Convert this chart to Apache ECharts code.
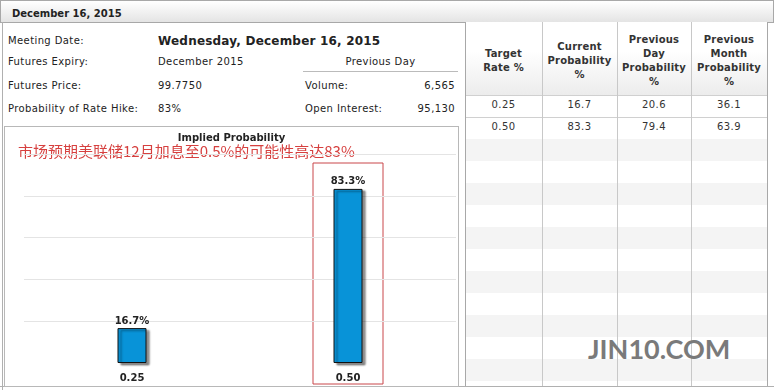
<!DOCTYPE html>
<html><head><meta charset="utf-8">
<script src="https://cdn.jsdelivr.net/npm/echarts@6/dist/echarts.min.js"></script>
<style>
body{margin:0;width:774px;height:390px;overflow:hidden;background:#fff;font-family:"DejaVu Sans",Verdana,sans-serif;color:#222;position:relative}
.a{position:absolute;white-space:nowrap}
.l{font-size:10px;line-height:14px;letter-spacing:0.4px}
.th{font-size:10px;font-weight:bold;line-height:14px;text-align:center;color:#333;white-space:normal;letter-spacing:0.2px}
.td{font-size:10px;line-height:14px;text-align:center;color:#333;letter-spacing:0.4px}
</style></head><body>
<div class="a" style="left:0;top:0;width:772px;height:21px;border:1px solid #a8a8a8;background:linear-gradient(#ffffff,#e4e4e4)"></div>
<div class="a" style="left:12px;top:7px;font-size:10px;font-weight:bold;line-height:14px">December 16, 2015</div>
<div class="a" style="left:2px;top:22px;width:1px;height:368px;background:#b0b0b0"></div>
<div class="a" style="left:0;top:386px;width:774px;height:1px;background:#b0b0b0"></div>

<div class="a l" style="left:8px;top:34px">Meeting Date:</div>
<div class="a" style="left:158px;top:32px;font-size:12px;font-weight:bold;line-height:18px;letter-spacing:0.2px">Wednesday, December 16, 2015</div>
<div class="a l" style="left:8px;top:55px">Futures Expiry:</div>
<div class="a l" style="left:158px;top:55px">December 2015</div>
<div class="a l" style="left:303px;top:55px;width:155px;text-align:center">Previous Day</div>
<div class="a" style="left:303px;top:71px;width:155px;height:1px;background:#bbb"></div>
<div class="a l" style="left:8px;top:79px">Futures Price:</div>
<div class="a l" style="left:158px;top:79px">99.7750</div>
<div class="a l" style="left:305px;top:79px">Volume:</div>
<div class="a l" style="left:355px;top:79px;width:100px;text-align:right">6,565</div>
<div class="a l" style="left:8px;top:102px">Probability of Rate Hike:</div>
<div class="a l" style="left:158px;top:102px">83%</div>
<div class="a l" style="left:305px;top:102px">Open Interest:</div>
<div class="a l" style="left:355px;top:102px;width:100px;text-align:right">95,130</div>

<div class="a" style="left:4px;top:126px;width:453px;height:259px;border:1px solid #b8b8b8"></div>
<div id="chart" class="a" style="left:4px;top:126px;width:455px;height:260px"></div>

<div id="table"></div>
<div class="a" style="left:588px;top:332px;font-family:Lato,'Open Sans',sans-serif;font-weight:bold;font-size:27px;line-height:34px;color:#7a7a7a">JIN10.COM</div>

<script>
// ---- data ----
const categories = ['0.25', '0.50'];
const currentProb = [16.7, 83.3];
const prevDayProb = [20.6, 79.4];
const prevMonthProb = [36.1, 63.9];
const headerLines = [['Target', 'Rate %'], ['Current', 'Probability', '%'], ['Previous', 'Day', 'Probability', '%'], ['Previous', 'Month', 'Probability', '%']];
const yTicks = [0, 20, 40, 60, 80, 100];
const noteText = '市场预期美联储12月加息至0.5%的可能性高达83%';

// ---- table ----
(function () {
  const colX = [465, 542, 617, 691, 767];
  const t = document.getElementById('table');
  let h = '';
  h += `<div class="a" style="left:${colX[0]}px;top:22px;width:${colX[4]-colX[0]}px;height:73px;background:linear-gradient(#ffffff 40%,#ececec)"></div>`;
  let y = 139, k = 0;
  while (y < 386) {
    const hh = Math.min(22, 386 - y);
    if (k % 2 === 0) h += `<div class="a" style="left:${colX[0]}px;top:${y}px;width:${colX[4]-colX[0]}px;height:${hh}px;background:#f4f4f4"></div>`;
    y += 22; k++;
  }
  [95, 117].forEach(yy => { h += `<div class="a" style="left:${colX[0]}px;top:${yy}px;width:${colX[4]-colX[0]}px;height:1px;background:#d0d0d0"></div>`; });
  colX.forEach((x, i) => { h += `<div class="a" style="left:${x}px;top:22px;width:1px;height:364px;background:${i===0||i===4?'#a8a8a8':'#c8c8c8'}"></div>`; });
  headerLines.forEach((lines, i) => {
    const hgt = lines.length * 14;
    const top = 61 - hgt / 2;
    h += `<div class="a th" style="left:${colX[i]}px;top:${top}px;width:${colX[i+1]-colX[i]}px">${lines.join('<br>')}</div>`;
  });
  const rows = categories.map((c, i) => [c, currentProb[i].toFixed(1), prevDayProb[i].toFixed(1), prevMonthProb[i].toFixed(1)]);
  rows.forEach((r, ri) => {
    r.forEach((v, ci) => {
      h += `<div class="a td" style="left:${colX[ci]}px;top:${98 + ri*22}px;width:${colX[ci+1]-colX[ci]}px">${v}</div>`;
    });
  });
  t.innerHTML = h;
})();

// ---- chart ----
const chart = echarts.init(document.getElementById('chart'));
const noteGraphic = { type: 'text', left: 14, top: 18,
  style: { text: noteText, fill: '#d6403f', font: '15px "Noto Sans CJK SC"' } };
const option = {
  animation: false,
  title: { text: 'Implied Probability', left: 'center', top: 2,
    textStyle: { fontSize: 10, fontWeight: 'bold', color: '#222', fontFamily: 'DejaVu Sans' } },
  grid: { left: 20, right: 3, top: 28, bottom: 23 },
  xAxis: { type: 'category', data: categories, axisLine: { show: false }, axisTick: { show: false },
    axisLabel: { fontWeight: 'bold', fontSize: 10, color: '#222', margin: 10, fontFamily: 'DejaVu Sans' } },
  yAxis: { type: 'value', min: yTicks[0], max: yTicks[yTicks.length-1], interval: 20,
    axisLabel: { show: false }, axisLine: { show: false }, axisTick: { show: false },
    splitLine: { showMinLine: false, lineStyle: { color: '#e4e4e4' } } },
  series: [{
    type: 'bar', data: currentProb, barWidth: 29,
    itemStyle: { color: '#0893d8', borderColor: '#111', borderWidth: 1,
      shadowColor: 'rgba(0,0,0,0.45)', shadowOffsetX: 3, shadowOffsetY: 2, shadowBlur: 2 },
    label: { show: true, position: 'top', formatter: '{c}%', fontWeight: 'bold', fontSize: 10,
      color: '#222', distance: 2, fontFamily: 'DejaVu Sans' }
  }],
  graphic: [noteGraphic]
};
chart.setOption(option);
const cx = chart.convertToPixel({ xAxisIndex: 0 }, categories[1]);
const yTop = chart.convertToPixel({ yAxisIndex: 0 }, yTicks[yTicks.length-1]);
const yBot = chart.convertToPixel({ yAxisIndex: 0 }, yTicks[0]);
chart.setOption({ graphic: [
  noteGraphic,
  { type: 'rect', shape: { x: cx - 35, y: yTop + 9, width: 70, height: yBot - yTop + 12 },
    style: { fill: 'none', stroke: '#c9464a', lineWidth: 1 } }
] });
</script>
</body></html>
